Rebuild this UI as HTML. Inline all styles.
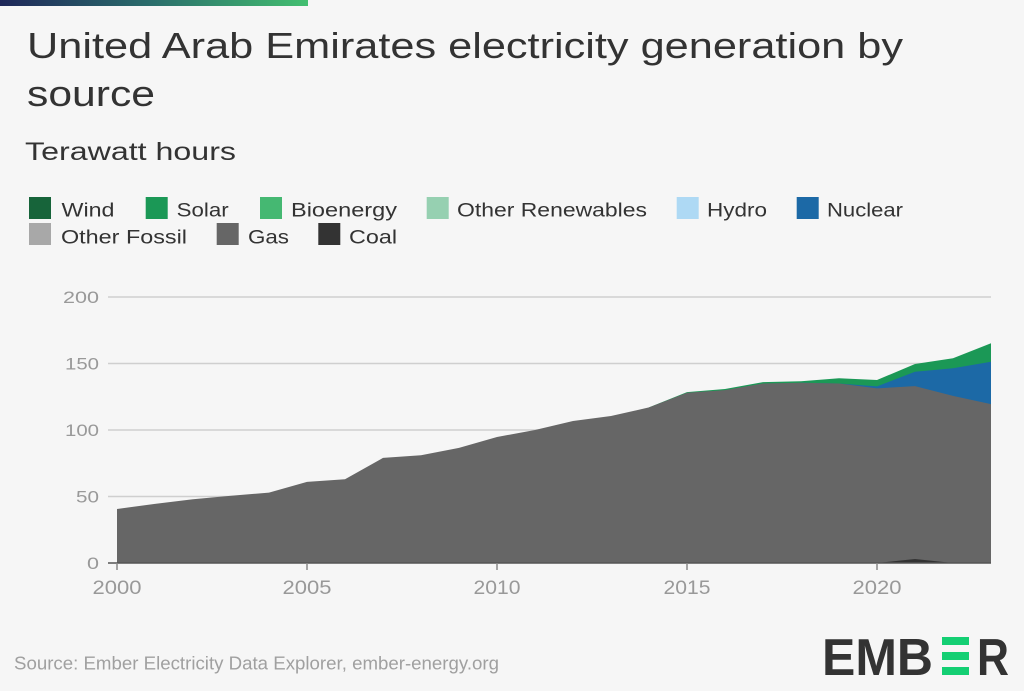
<!DOCTYPE html>
<html>
<head>
<meta charset="utf-8">
<style>
  html, body { margin: 0; padding: 0; background: #f6f6f6; }
  svg { display: block; }
  text { font-family: "Liberation Sans", "DejaVu Sans", sans-serif; }
</style>
</head>
<body>
<svg width="1024" height="691" viewBox="0 0 1024 691" xmlns="http://www.w3.org/2000/svg">
  <defs>
    <linearGradient id="bar" x1="0" y1="0" x2="1" y2="0">
      <stop offset="0" stop-color="#1e2759"/>
      <stop offset="0.5" stop-color="#2b6f6c"/>
      <stop offset="1" stop-color="#43bf70"/>
    </linearGradient>
  </defs>
  <rect x="0" y="0" width="1024" height="691" fill="#f6f6f6"/>
  <rect x="0" y="0" width="308" height="6" fill="url(#bar)"/>

  <!-- Title -->
  <text x="27" y="58" font-size="36" fill="#333" textLength="876" lengthAdjust="spacingAndGlyphs">United Arab Emirates electricity generation by</text>
  <text x="27" y="106" font-size="36" fill="#333" textLength="128" lengthAdjust="spacingAndGlyphs">source</text>
  <text x="25" y="160" font-size="25" fill="#333" textLength="211" lengthAdjust="spacingAndGlyphs">Terawatt hours</text>

  <!-- Legend -->
  <g font-size="19" fill="#333">
    <rect x="29" y="197" width="22" height="22" fill="#17643a"/>
    <text x="61.5" y="216.7" textLength="53" lengthAdjust="spacingAndGlyphs">Wind</text>
    <rect x="145.7" y="197" width="22" height="22" fill="#1b9856"/>
    <text x="176.7" y="216.7" textLength="52" lengthAdjust="spacingAndGlyphs">Solar</text>
    <rect x="260" y="197" width="22" height="22" fill="#45b872"/>
    <text x="291" y="216.7" textLength="106" lengthAdjust="spacingAndGlyphs">Bioenergy</text>
    <rect x="426.7" y="197" width="22" height="22" fill="#96d0b1"/>
    <text x="457" y="216.7" textLength="190" lengthAdjust="spacingAndGlyphs">Other Renewables</text>
    <rect x="676.7" y="197" width="22" height="22" fill="#aed9f4"/>
    <text x="707" y="216.7" textLength="60" lengthAdjust="spacingAndGlyphs">Hydro</text>
    <rect x="796.7" y="197" width="22" height="22" fill="#1c69a6"/>
    <text x="827" y="216.7" textLength="76" lengthAdjust="spacingAndGlyphs">Nuclear</text>

    <rect x="29" y="223" width="22" height="22" fill="#a8a8a8"/>
    <text x="61" y="243.3" textLength="126" lengthAdjust="spacingAndGlyphs">Other Fossil</text>
    <rect x="216.7" y="223" width="22" height="22" fill="#666666"/>
    <text x="248" y="243.3" textLength="41" lengthAdjust="spacingAndGlyphs">Gas</text>
    <rect x="318.3" y="223" width="22" height="22" fill="#333333"/>
    <text x="349" y="243.3" textLength="48" lengthAdjust="spacingAndGlyphs">Coal</text>
  </g>

  <!-- Gridlines -->
  <g stroke="#cfcfcf" stroke-width="1.5">
    <line x1="108" y1="297" x2="991" y2="297"/>
    <line x1="108" y1="363.5" x2="991" y2="363.5"/>
    <line x1="108" y1="430" x2="991" y2="430"/>
    <line x1="108" y1="496.5" x2="991" y2="496.5"/>
  </g>

  <!-- Y labels -->
  <g font-size="17" fill="#999" text-anchor="end">
    <text x="99" y="303" textLength="36" lengthAdjust="spacingAndGlyphs">200</text>
    <text x="99" y="369.5" textLength="34" lengthAdjust="spacingAndGlyphs">150</text>
    <text x="99" y="436" textLength="34" lengthAdjust="spacingAndGlyphs">100</text>
    <text x="99" y="502.5" textLength="23" lengthAdjust="spacingAndGlyphs">50</text>
    <text x="99" y="569" textLength="12" lengthAdjust="spacingAndGlyphs">0</text>
  </g>

  <!-- Solar -->
  <polygon fill="#1b9856" points="649,563 649,407.4 687,392.1 725,389 763,382.1 801,381.3 839,378.3 877,380 915,364 953,358.3 991,343.3 991,563"/>
  <!-- Nuclear -->
  <polygon fill="#1c69a6" points="801,563 801,382.7 839,383.5 877,386.4 915,371.7 953,368.3 991,361.7 991,563"/>
  <!-- Gas -->
  <polygon fill="#666666" points="117,563 117,509 155,503.9 193,499.2 231,495.7 269,492.6 307,481.9 345,479.2 383,457.9 421,455.3 459,447.9 497,437 535,430 573,421 611,416 649,407.4 687,392.8 725,390.1 763,383.5 801,382.7 839,383.5 877,388.4 915,386.1 953,395.9 991,404.1 991,563"/>
  <!-- Coal -->
  <polygon fill="#333333" points="877,563 915,559 953,563"/>

  <!-- Axis line and ticks -->
  <line x1="108" y1="563" x2="991" y2="563" stroke="#555" stroke-width="1.5"/>
  <g stroke="#888" stroke-width="1.5">
    <line x1="117" y1="563" x2="117" y2="570"/>
    <line x1="307" y1="563" x2="307" y2="570"/>
    <line x1="497" y1="563" x2="497" y2="570"/>
    <line x1="687" y1="563" x2="687" y2="570"/>
    <line x1="877" y1="563" x2="877" y2="570"/>
  </g>

  <!-- X labels -->
  <g font-size="19" fill="#999" text-anchor="middle">
    <text x="117" y="594" textLength="49" lengthAdjust="spacingAndGlyphs">2000</text>
    <text x="307" y="594" textLength="49" lengthAdjust="spacingAndGlyphs">2005</text>
    <text x="497" y="594" textLength="47" lengthAdjust="spacingAndGlyphs">2010</text>
    <text x="687" y="594" textLength="47" lengthAdjust="spacingAndGlyphs">2015</text>
    <text x="877" y="594" textLength="49" lengthAdjust="spacingAndGlyphs">2020</text>
  </g>

  <!-- Source -->
  <text x="14" y="669.3" font-size="18" fill="#a0a0a0" textLength="485" lengthAdjust="spacingAndGlyphs">Source: Ember Electricity Data Explorer, ember-energy.org</text>

  <!-- EMBER logo -->
  <g fill="#333" font-weight="bold" font-size="52">
    <text x="822" y="675" textLength="111" lengthAdjust="spacingAndGlyphs">EMB</text>
    <text x="977" y="675" textLength="32" lengthAdjust="spacingAndGlyphs">R</text>
  </g>
  <g fill="#14cf73">
    <rect x="942" y="637" width="27" height="8"/>
    <rect x="942" y="652" width="27" height="8"/>
    <rect x="942" y="667" width="27" height="8"/>
  </g>
</svg>
</body>
</html>
